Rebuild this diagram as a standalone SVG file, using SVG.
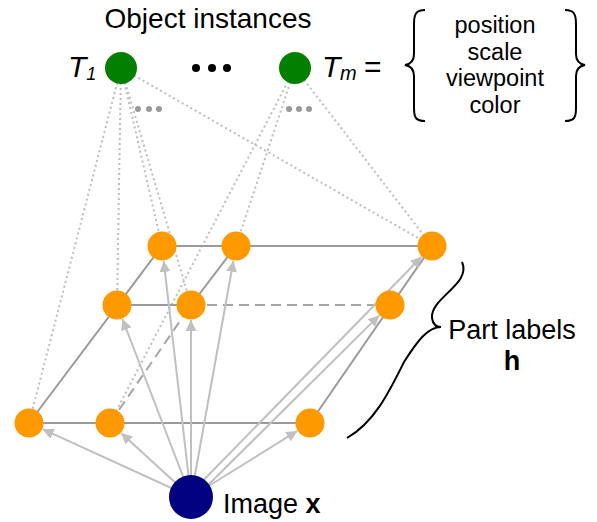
<svg xmlns="http://www.w3.org/2000/svg" width="597" height="522" viewBox="0 0 597 522">
  <defs>
    <marker id="arrow" viewBox="0 0 10 10" refX="10" refY="5" markerWidth="5.5" markerHeight="5.5" orient="auto" markerUnits="strokeWidth">
      <path d="M0,0 L10,5 L0,10 z" fill="#c0c0c0"/>
    </marker>
    <style>
      .lbl { font-family: "Liberation Sans", Arial, sans-serif; fill: #000; }
      .math { font-family: "Liberation Sans", Arial, sans-serif; font-style: italic; fill: #000; }
      .dot { stroke: #bdbdbd; stroke-width: 2; stroke-dasharray: 2 3; fill: none; }
      .grid { stroke: #9a9a9a; stroke-width: 2; fill: none; }
      .dash { stroke: #a6a6a6; stroke-width: 2; stroke-dasharray: 10 6; fill: none; }
      .arr { stroke: #c0c0c0; stroke-width: 2; fill: none; marker-end: url(#arrow); }
      .part { fill: #ff9900; }
      .obj { fill: #007f00; }
      .brace { stroke: #000; stroke-width: 2; fill: none; }
    </style>
  </defs>

  <!-- dotted links from object instances to part labels -->
  <g id="instance-links">
    <line class="dot" x1="121" y1="68" x2="29" y2="423"/>
    <line class="dot" x1="121" y1="68" x2="117" y2="305"/>
    <line class="dot" x1="121" y1="68" x2="162" y2="246"/>
    <line class="dot" x1="121" y1="68" x2="191" y2="305"/>
    <line class="dot" x1="121" y1="68" x2="432" y2="246"/>
    <line class="dot" x1="295" y1="68" x2="110" y2="423"/>
    <line class="dot" x1="295" y1="68" x2="236" y2="246"/>
    <line class="dot" x1="295" y1="68" x2="432" y2="246"/>
  </g>

  <!-- lattice of part labels -->
  <g id="part-grid">
    <line class="grid" x1="162" y1="246" x2="432" y2="246"/>
    <line class="grid" x1="117" y1="305" x2="191" y2="305"/>
    <line class="dash" x1="191" y1="305" x2="390" y2="305"/>
    <line class="grid" x1="29" y1="423" x2="310" y2="423"/>
    <line class="grid" x1="29" y1="423" x2="162" y2="246"/>
    <line class="dash" x1="110" y1="423" x2="191" y2="305"/>
    <line class="grid" x1="191" y1="305" x2="236" y2="246"/>
    <line class="grid" x1="310" y1="423" x2="432" y2="246"/>
  </g>

  <!-- arrows from the image to each part label -->
  <g id="image-links">
    <line class="arr" x1="191" y1="497" x2="42.6" y2="429.2"/>
    <line class="arr" x1="191" y1="497" x2="121.1" y2="433.1"/>
    <line class="arr" x1="191" y1="497" x2="122.4" y2="319"/>
    <line class="arr" x1="191" y1="497" x2="163.7" y2="260.9"/>
    <line class="arr" x1="191" y1="497" x2="191" y2="320"/>
    <line class="arr" x1="191" y1="497" x2="233.4" y2="260.8"/>
    <line class="arr" x1="191" y1="497" x2="297.3" y2="430.9"/>
    <line class="arr" x1="196" y1="497" x2="379.2" y2="315.4"/>
    <line class="arr" x1="191" y1="493" x2="421.6" y2="256.8"/>
  </g>

  <!-- part label nodes -->
  <g id="h-top-1"><circle class="part" cx="162" cy="246" r="14.5"/></g>
  <g id="h-top-2"><circle class="part" cx="236" cy="246" r="14.5"/></g>
  <g id="h-top-3"><circle class="part" cx="432" cy="246" r="14.5"/></g>
  <g id="h-mid-1"><circle class="part" cx="117" cy="305" r="14.5"/></g>
  <g id="h-mid-2"><circle class="part" cx="191" cy="305" r="14.5"/></g>
  <g id="h-mid-3"><circle class="part" cx="390" cy="305" r="14.5"/></g>
  <g id="h-bot-1"><circle class="part" cx="29" cy="423" r="14.5"/></g>
  <g id="h-bot-2"><circle class="part" cx="110" cy="423" r="14.5"/></g>
  <g id="h-bot-3"><circle class="part" cx="310" cy="423" r="14.5"/></g>

  <!-- object instance nodes -->
  <g id="T1">
    <circle class="obj" cx="121" cy="68" r="16"/>
    <text class="math" x="68" y="77" font-size="30">T<tspan font-size="18" dy="3">1</tspan></text>
  </g>
  <g id="Tm">
    <circle class="obj" cx="295" cy="68" r="16"/>
    <text class="math" x="322" y="77" font-size="30">T</text>
    <text class="math" x="340" y="80" font-size="20">m</text>
    <text class="lbl" x="364" y="77" font-size="30">=</text>
  </g>
  <g id="instance-ellipsis" fill="#000">
    <circle cx="196" cy="68" r="4"/>
    <circle cx="212" cy="68" r="4"/>
    <circle cx="227" cy="68" r="4"/>
  </g>
  <g id="link-ellipsis" fill="#999">
    <circle cx="138" cy="109" r="3"/>
    <circle cx="149" cy="109" r="3"/>
    <circle cx="159" cy="109" r="3"/>
    <circle cx="289" cy="109" r="3"/>
    <circle cx="299" cy="109" r="3"/>
    <circle cx="309" cy="109" r="3"/>
  </g>

  <text class="lbl" x="208" y="28" font-size="28" text-anchor="middle">Object instances</text>

  <!-- transformation parameters -->
  <g id="params">
    <path class="brace" d="M425,10 C416,10 414,14 414,24 L414,54 C414,61 411,64 405,65 C411,66 414,69 414,76 L414,108 C414,118 416,121 425,121"/>
    <path class="brace" d="M565,10 C574,10 576,14 576,24 L576,54 C576,61 579,64 585,65 C579,66 576,69 576,76 L576,108 C576,118 574,121 565,121"/>
    <g class="lbl" font-size="23.5" text-anchor="middle">
      <text x="495" y="33">position</text>
      <text x="495" y="59.5">scale</text>
      <text x="495" y="86">viewpoint</text>
      <text x="495" y="112.5">color</text>
    </g>
  </g>

  <!-- part labels brace -->
  <g id="part-labels">
    <path class="brace" stroke-width="1.5" d="M462,262 C472,284 430,298 432,318 C433,325 437,327 441,327 C428,327 418,340 404,362 C390,390 375,422 347,438"/>
    <text class="lbl" x="512" y="339" font-size="27" text-anchor="middle">Part labels</text>
    <text class="lbl" x="512" y="370" font-size="27" font-weight="bold" text-anchor="middle">h</text>
  </g>

  <!-- image node -->
  <g id="image">
    <circle cx="191" cy="497" r="22" fill="#000080"/>
    <text class="lbl" x="223" y="513" font-size="27">Image <tspan font-weight="bold">x</tspan></text>
  </g>
</svg>
